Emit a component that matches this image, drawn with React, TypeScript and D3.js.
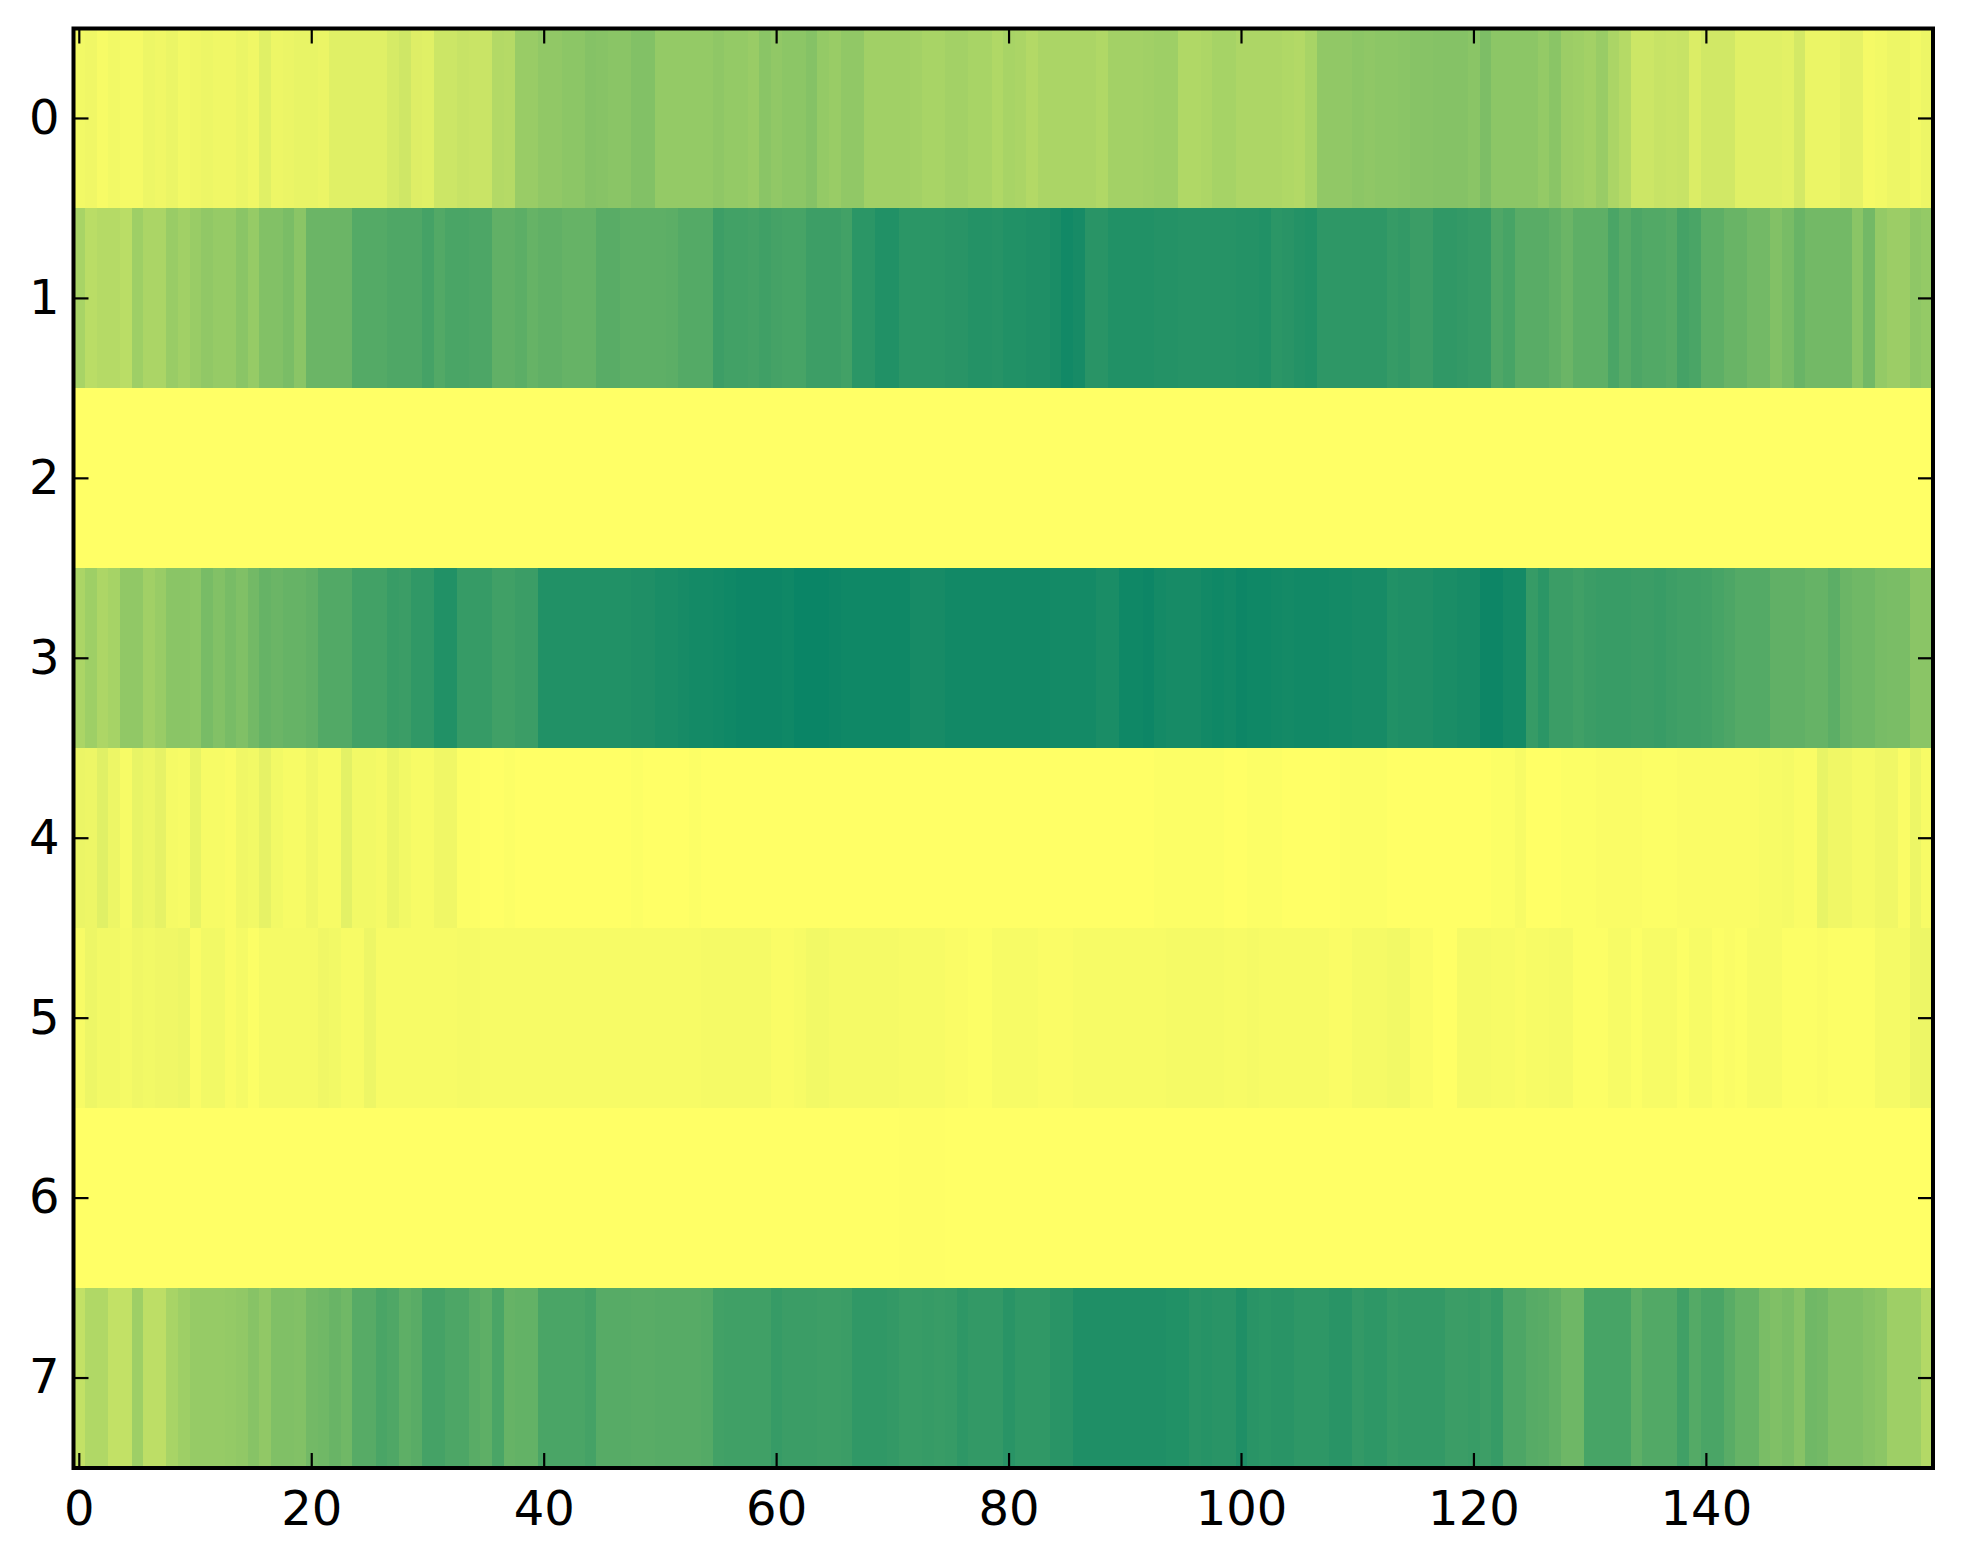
import React, { useEffect, useRef } from 'react';
import * as d3 from 'd3';

// values, in percent of the colour range, one list per row
const row0 = [
  5, 6, 3, 5, 4, 4, 7, 6, 8, 5, 6, 7, 6, 6, 8, 6, 12, 7, 8, 9,
  9, 8, 12, 12, 12, 12, 12, 16, 19, 13, 12, 20, 20, 22, 21, 21, 30, 29, 40, 40,
  43, 43, 45, 45, 48, 47, 46, 46, 49, 49, 42, 42, 42, 42, 42, 44, 42, 42, 40, 46,
  43, 45, 45, 48, 42, 40, 43, 43, 37, 37, 37, 37, 36, 34, 34, 36, 36, 34, 34, 31,
  34, 33, 30, 33, 33, 33, 33, 33, 31, 36, 36, 36, 37, 38, 38, 31, 31, 32, 35, 35,
  32, 32, 32, 32, 31, 30, 34, 43, 43, 43, 45, 44, 45, 45, 46, 47, 47, 48, 48, 48,
  46, 51, 45, 45, 45, 45, 42, 46, 39, 38, 36, 40, 33, 29, 20, 20, 22, 21, 22, 14,
  18, 18, 18, 12, 12, 12, 12, 11, 17, 8, 8, 8, 10, 10, 4, 5, 7, 7, 5, 7,
];
const row1 = [
  34, 27, 29, 29, 27, 38, 33, 33, 40, 37, 40, 43, 41, 41, 46, 41, 49, 49, 52, 46,
  58, 58, 58, 58, 67, 67, 67, 69, 69, 69, 73, 68, 71, 71, 70, 70, 62, 62, 64, 60,
  62, 62, 60, 60, 60, 65, 65, 63, 63, 63, 63, 64, 67, 67, 67, 76, 74, 74, 73, 75,
  73, 72, 72, 76, 76, 76, 74, 83, 83, 87, 87, 83, 83, 83, 83, 84, 84, 86, 86, 85,
  87, 87, 88, 88, 90, 93, 91, 84, 84, 87, 87, 87, 87, 86, 86, 85, 85, 85, 85, 85,
  86, 86, 87, 83, 84, 86, 87, 82, 82, 82, 82, 82, 82, 79, 80, 77, 77, 81, 81, 80,
  79, 79, 69, 72, 65, 65, 65, 62, 58, 63, 63, 63, 71, 66, 70, 68, 68, 66, 73, 71,
  63, 63, 59, 59, 55, 55, 49, 53, 59, 55, 55, 55, 55, 46, 55, 42, 39, 39, 44, 42,
];
const row2 = [
  0, 0, 0, 0, 0, 0, 0, 0, 0, 0, 0, 0, 0, 0, 0, 0, 0, 0, 0, 0,
  0, 0, 0, 0, 0, 0, 0, 0, 0, 0, 0, 0, 0, 0, 0, 0, 0, 0, 0, 0,
  0, 0, 0, 0, 0, 0, 0, 0, 0, 0, 0, 0, 0, 0, 0, 0, 0, 0, 0, 0,
  0, 0, 0, 0, 0, 0, 0, 0, 0, 0, 0, 0, 0, 0, 0, 0, 0, 0, 0, 0,
  0, 0, 0, 0, 0, 0, 0, 0, 0, 0, 0, 0, 0, 0, 0, 0, 0, 0, 0, 0,
  0, 0, 0, 0, 0, 0, 0, 0, 0, 0, 0, 0, 0, 0, 0, 0, 0, 0, 0, 0,
  0, 0, 0, 0, 0, 0, 0, 0, 0, 0, 0, 0, 0, 0, 0, 0, 0, 0, 0, 0,
  0, 0, 0, 0, 0, 0, 0, 0, 0, 0, 0, 0, 0, 0, 0, 0, 0, 0, 0, 0,
];
const row3 = [
  33, 38, 32, 35, 43, 43, 37, 40, 46, 46, 45, 53, 49, 53, 50, 55, 60, 58, 60, 60,
  62, 68, 68, 68, 74, 74, 74, 78, 77, 81, 81, 87, 87, 79, 79, 79, 75, 75, 77, 77,
  87, 87, 87, 87, 87, 87, 87, 87, 88, 88, 90, 90, 91, 92, 92, 93, 94, 95, 95, 95,
  95, 94, 96, 96, 96, 95, 94, 94, 94, 94, 94, 94, 91, 91, 91, 93, 93, 93, 93, 93,
  93, 93, 93, 93, 92, 92, 92, 92, 90, 90, 94, 94, 95, 92, 91, 91, 91, 93, 94, 93,
  95, 94, 94, 93, 92, 93, 93, 93, 92, 92, 91, 91, 91, 87, 88, 88, 88, 90, 90, 91,
  91, 95, 95, 92, 92, 79, 83, 77, 77, 75, 77, 78, 78, 78, 77, 77, 78, 76, 75, 75,
  74, 72, 70, 67, 67, 67, 62, 62, 62, 60, 60, 64, 58, 56, 56, 53, 52, 52, 46, 46,
];
const row4 = [
  8, 7, 12, 7, 3, 9, 7, 10, 4, 3, 9, 3, 3, 2, 6, 5, 10, 5, 3, 3,
  6, 3, 3, 11, 5, 5, 4, 8, 5, 3, 3, 6, 6, 1, 1, 0, 0, 1, 0, 0,
  0, 0, 0, 0, 0, 0, 0, 0, 1, 0, 0, 0, 0, 1, 0, 0, 0, 0, 0, 0,
  0, 0, 0, 0, 0, 0, 0, 0, 0, 0, 0, 0, 0, 0, 0, 0, 0, 0, 0, 0,
  0, 0, 0, 0, 0, 0, 0, 0, 0, 0, 0, 0, 0, 1, 1, 1, 1, 1, 1, 0,
  0, 1, 1, 1, 0, 0, 0, 0, 0, 1, 1, 1, 1, 0, 0, 0, 0, 0, 0, 0,
  0, 0, 1, 1, 3, 0, 0, 0, 1, 1, 1, 2, 2, 2, 2, 1, 1, 1, 2, 2,
  2, 2, 2, 2, 2, 3, 3, 4, 2, 2, 9, 6, 6, 4, 4, 6, 6, 2, 7, 3,
];
const row5 = [
  3, 7, 5, 5, 4, 6, 5, 6, 6, 7, 2, 5, 5, 2, 4, 1, 4, 4, 4, 4,
  4, 6, 5, 3, 3, 7, 3, 3, 3, 3, 3, 3, 3, 4, 4, 3, 3, 3, 3, 3,
  3, 3, 3, 3, 3, 3, 3, 3, 3, 3, 3, 3, 3, 3, 4, 4, 4, 4, 4, 4,
  2, 2, 3, 5, 5, 4, 4, 4, 4, 4, 4, 3, 3, 3, 3, 2, 2, 1, 1, 3,
  3, 3, 3, 2, 2, 2, 3, 3, 3, 3, 3, 3, 3, 3, 4, 4, 4, 4, 4, 3,
  3, 4, 3, 3, 3, 3, 3, 3, 2, 2, 4, 4, 4, 5, 5, 2, 2, 0, 0, 4,
  4, 4, 3, 3, 2, 3, 3, 4, 4, 1, 1, 1, 3, 3, 1, 3, 3, 3, 1, 3,
  3, 1, 2, 1, 3, 3, 3, 1, 1, 1, 2, 1, 1, 1, 1, 4, 4, 4, 7, 7,
];
const row6 = [
  0, 0, 0, 0, 0, 0, 0, 0, 0, 0, 0, 0, 0, 0, 0, 0, 0, 0, 0, 0,
  0, 0, 0, 0, 0, 0, 0, 0, 0, 0, 0, 0, 0, 0, 0, 0, 0, 0, 0, 0,
  0, 0, 0, 0, 0, 0, 0, 0, 0, 0, 0, 0, 0, 0, 0, 0, 0, 0, 0, 0,
  0, 0, 0, 0, 0, 0, 0, 0, 0, 0, 0, 0.5, 0.5, 0.5, 0.5, 0, 0, 0, 0, 0,
  0, 0, 0, 0, 0, 0, 0, 0, 0, 0, 0, 0, 0, 0, 0, 0, 0, 0, 0, 0,
  0, 0, 0, 0, 0, 0, 0, 0, 0, 0, 0, 0, 0, 0, 0, 0, 0, 0, 0, 0,
  0, 0, 0, 0, 0, 0, 0, 0, 0, 0, 0, 0, 0, 0, 0, 0, 0, 0, 0, 0,
  0, 0, 0, 0, 0, 0, 0, 0, 0, 0, 0, 0, 0, 0, 0, 0, 0, 0, 0, 0,
];
const row7 = [
  24, 31, 31, 24, 24, 38, 26, 26, 34, 38, 41, 41, 41, 42, 43, 47, 43, 50, 50, 49,
  55, 56, 59, 56, 66, 66, 71, 69, 63, 65, 73, 73, 70, 70, 65, 63, 71, 60, 61, 61,
  71, 71, 71, 71, 73, 66, 66, 66, 65, 65, 66, 66, 66, 66, 67, 74, 75, 75, 75, 75,
  79, 77, 77, 77, 76, 76, 77, 81, 81, 81, 80, 78, 78, 79, 78, 79, 82, 80, 80, 80,
  84, 81, 81, 81, 84, 84, 88, 88, 88, 88, 88, 88, 88, 88, 87, 87, 84, 85, 84, 84,
  88, 84, 83, 84, 84, 82, 82, 82, 84, 84, 80, 82, 82, 79, 80, 80, 80, 80, 77, 77,
  78, 76, 79, 70, 70, 66, 65, 62, 57, 57, 72, 72, 72, 72, 63, 68, 68, 68, 75, 67,
  71, 71, 65, 60, 60, 52, 50, 52, 47, 56, 55, 50, 50, 50, 47, 45, 38, 38, 38, 30,
];

const rows = [row0, row1, row2, row3, row4, row5, row6, row7];
const xTicks = [0, 20, 40, 60, 80, 100, 120, 140];
const yTicks = [0, 1, 2, 3, 4, 5, 6, 7];

const App: React.FC = () => {
  const svgRef = useRef<SVGSVGElement | null>(null);

  useEffect(() => {
    if (!svgRef.current) return;
    const svg = d3.select(svgRef.current);
    svg.selectAll('*').remove();

    const left = 73.5;
    const right = 1933;
    const top = 28.5;
    const bottom = 1468;

    const x = d3.scaleLinear().domain([-0.5, 159.5]).range([left, right]);
    const y = d3.scaleLinear().domain([-0.5, 7.5]).range([top, bottom]);
    // summer_r
    const color = d3.scaleLinear<string>().domain([0, 100]).range(['#ffff66', '#008066']);

    const cells = rows.flatMap((row, r) => row.map((v, c) => ({ r, c, v })));
    svg
      .append('g')
      .attr('shape-rendering', 'crispEdges')
      .selectAll('rect')
      .data(cells)
      .enter()
      .append('rect')
      .attr('x', (d) => x(d.c - 0.5))
      .attr('y', (d) => y(d.r - 0.5))
      .attr('width', (d) => x(d.c + 0.5) - x(d.c - 0.5))
      .attr('height', (d) => y(d.r + 0.5) - y(d.r - 0.5))
      .attr('fill', (d) => color(d.v));

    const tickLen = -15;
    const bottomAxis = d3.axisBottom(x).tickValues(xTicks).tickSizeInner(tickLen).tickSizeOuter(0).tickPadding(23).offset(0);
    const topAxis = d3.axisTop(x).tickValues(xTicks).tickSizeInner(tickLen).tickSizeOuter(0).tickFormat(() => '').offset(0);
    const leftAxis = d3.axisLeft(y).tickValues(yTicks).tickSizeInner(tickLen).tickSizeOuter(0).tickPadding(14).offset(0);
    const rightAxis = d3.axisRight(y).tickValues(yTicks).tickSizeInner(tickLen).tickSizeOuter(0).tickFormat(() => '').offset(0);

    const axes: [any, string][] = [
      [bottomAxis, `translate(0,${bottom})`],
      [topAxis, `translate(0,${top})`],
      [leftAxis, `translate(${left},0)`],
      [rightAxis, `translate(${right},0)`],
    ];
    axes.forEach(([axis, transform]) => {
      const g = svg.append('g').attr('transform', transform).call(axis);
      g.select('.domain').remove();
      g.selectAll('line').attr('stroke', '#000').attr('stroke-width', 2.2);
      g.selectAll('text').attr('fill', '#000').style('font-family', '"DejaVu Sans"').style('font-size', '48px');
    });

    svg
      .append('rect')
      .attr('x', left)
      .attr('y', top)
      .attr('width', right - left)
      .attr('height', bottom - top)
      .attr('fill', 'none')
      .attr('stroke', '#000')
      .attr('stroke-width', 4);
  }, []);

  return (
    <svg
      ref={svgRef}
      width={1963}
      height={1564}
      viewBox="0 0 1963 1564"
      style={{ position: 'absolute', left: 0, top: 0, background: '#fff' }}
    ></svg>
  );
};

export default App;
